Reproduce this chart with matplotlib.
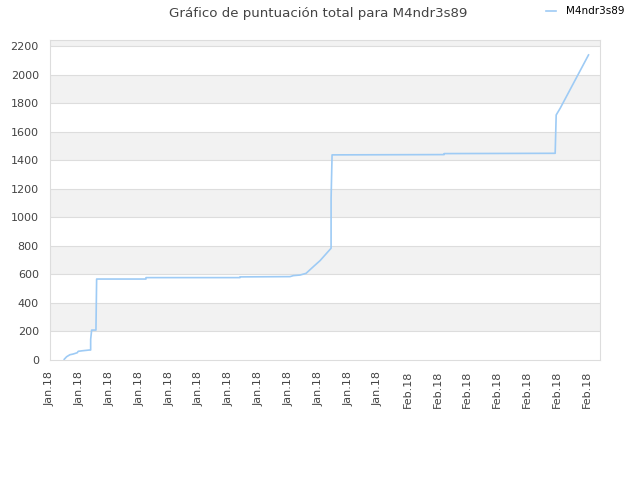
import pandas as pd
import matplotlib
matplotlib.use("Agg")
import matplotlib.pyplot as plt
import matplotlib.dates as mdates

# puntuación acumulada
times = ["2018-01-20 11:31", "2018-01-20 13:27", "2018-01-20 16:06", "2018-01-20 18:46",
         "2018-01-20 21:59", "2018-01-20 22:48", "2018-01-21 02:20", "2018-01-21 07:39",
         "2018-01-21 08:47", "2018-01-21 08:48", "2018-01-21 09:35", "2018-01-21 13:03",
         "2018-01-21 13:36", "2018-01-23 05:18", "2018-01-23 05:19", "2018-01-26 09:01",
         "2018-01-26 09:02", "2018-01-28 01:18", "2018-01-28 03:56", "2018-01-28 09:20",
         "2018-01-28 14:11", "2018-01-28 20:04", "2018-01-29 01:26", "2018-01-29 10:19",
         "2018-01-29 10:20", "2018-01-29 11:07", "2018-02-02 05:18", "2018-02-02 05:19",
         "2018-02-05 22:42", "2018-02-05 23:31", "2018-02-06 02:44", "2018-02-07 01:32"]
scores = [5, 23, 37, 42, 51, 61, 65, 70, 70, 145, 210, 210, 568, 568, 578, 578,
          583, 585, 592, 596, 608, 655, 697, 784, 1135, 1439, 1441, 1448,
          1450, 1719, 1766, 2140]

player = "M4ndr3s89"
yticks = list(range(0, 2201, 200))

t = pd.to_datetime(times)

fig = plt.figure(figsize=(6.4, 4.8), dpi=100)
ax = fig.add_axes([0.078, 0.25, 0.86, 0.6667])

# bandas alternas
for lo in range(200, 2400, 400):
    ax.axhspan(lo, lo + 200, color="#f2f2f2", zorder=0, lw=0)
for y in yticks[1:]:
    ax.axhline(y, color="#dddddd", lw=0.8, zorder=1)

ax.plot(t, scores, color="#9ecbf5", lw=1.2, zorder=3, label=player)

start = pd.Timestamp("2018-01-20")
ax.set_xlim(start, start + pd.Timedelta(days=18.46))
ax.set_ylim(0, 2245)
ax.set_yticks(yticks)
ax.xaxis.set_major_locator(mdates.DayLocator())
ax.xaxis.set_major_formatter(mdates.DateFormatter("%b.%y"))
ax.tick_params(axis="x", rotation=90, labelsize=8, colors="#444444", length=0, pad=8)
ax.tick_params(axis="y", labelsize=8, colors="#444444", length=0, pad=8)
for s in ax.spines.values():
    s.set_color("#dddddd")

fig.text(0.497, 0.972, "Gráfico de puntuación total para " + player,
         ha="center", va="center", fontsize=9.6, color="#444444")
fig.legend(loc="upper right", bbox_to_anchor=(0.985, 1.0), frameon=False,
           fontsize=7.5, handlelength=1.0, handletextpad=0.9, borderaxespad=0.2)

fig.savefig("out.png", dpi=100)
